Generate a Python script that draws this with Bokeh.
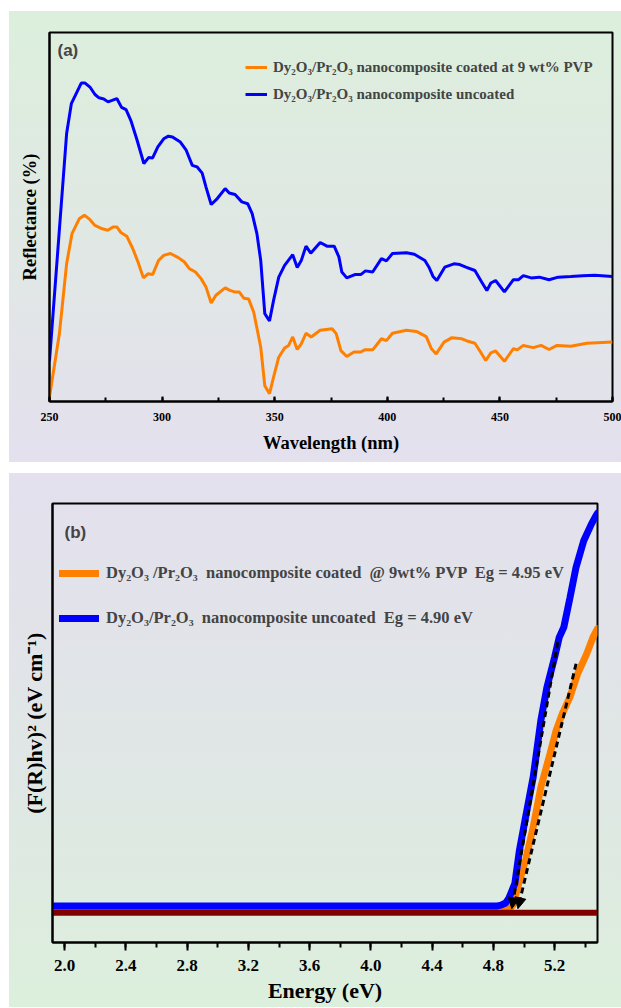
from bokeh.plotting import figure
from bokeh.models import (Range1d, SingleIntervalTicker, FixedTicker, PrintfTickFormatter,
                          Legend, LegendItem, Label, Arrow, NormalHead, ColumnDataSource)
from bokeh.embed import file_html
from bokeh.resources import INLINE

# ---------------- Panel (a): reflectance spectra ----------------
wl_uncoated = [250, 257.6, 259.7, 264.1, 265.8, 268.1, 270.2, 272, 274.1, 276, 277.8, 279.9,
               282, 284, 286.1, 288.7, 291.9, 294, 295.8, 298.1, 300.7, 302.8, 304.6, 308.1,
               310.7, 313.4, 315.5, 317.8, 319.5, 321.8, 324.5, 328, 329.8, 332.4, 335.4, 338,
               340, 342.1, 343.8, 345.6, 347.7, 349.5, 351.8, 354.4, 358, 360, 361.8, 363.9,
               366, 370.2, 373.2, 376.4, 378.5, 379.8, 382, 385.6, 388.2, 390.3, 393.5, 397.4,
               399.6, 402.3, 408.5, 412, 416.7, 418.5, 420.3, 422, 425.5, 429.6, 432.2, 434.9,
               438.9, 441.9, 444.2, 446, 448.1, 452, 456, 458.3, 460.4, 463.9, 467.5, 471.8,
               475.9, 481.5, 486.8, 492.1, 500]
refl_uncoated = [11, 72.6, 80.7, 86.3, 86.3, 85.1, 83.2, 82.3, 82, 81.2, 81.6, 82.1,
                 79.7, 79.1, 76.2, 71.2, 64.5, 66.1, 66, 69, 71.2, 71.9, 71.7, 70.3,
                 68.1, 64, 63.6, 61.9, 58.1, 53.4, 55, 57.7, 56.5, 56.1, 54.1, 53.6,
                 50.9, 45.5, 38.2, 23.8, 21.8, 27.4, 33.7, 36.9, 39.8, 36.3, 38.2, 42.1,
                 40.2, 43.1, 42.1, 42.1, 39.2, 35.1, 33.5, 34.4, 34.4, 35.4, 35.1, 38.7,
                 38.1, 40.1, 40.3, 39.9, 38.2, 36.4, 33.9, 32.8, 36.4, 37.3, 37.1, 36.4,
                 35.5, 32.4, 30.1, 32.1, 32.8, 29.7, 33, 33, 34.1, 33.5, 33.7, 33,
                 33.7, 33.9, 34.1, 34.2, 33.9]

wl_coated = [250, 254.4, 257.6, 260, 263.2, 265.5, 267.6, 270.2, 273.4, 275.9, 278.2, 279.9,
             281.7, 284.3, 287, 289.3, 291.7, 293.7, 295.8, 298.4, 300.7, 303.7, 307.2, 309.9,
             312.1, 314.8, 317.3, 319.5, 321.8, 323.9, 328, 330.1, 332.2, 334.2, 336.3, 338.4,
             340.7, 343.8, 345.6, 347.7, 349.5, 351.8, 354.4, 356.2, 358, 360, 361.8, 363.9,
             366.2, 370.2, 375.5, 377.3, 379.4, 382, 385.2, 388.2, 390, 393.5, 397.4, 399.6,
             402.3, 408.5, 412.9, 417.3, 419.6, 421.7, 425.2, 428.7, 433.1, 435.4, 438.9, 441.4,
             443.7, 446, 448.1, 452, 456, 457.7, 460.4, 464.8, 468.3, 471.8, 475.4, 481.5,
             488.6, 500]
refl_coated = [1.2, 18.4, 37.3, 45.5, 49.5, 50.5, 49.5, 47.7, 46.8, 46.4, 47.3, 47.3,
               45.8, 44.8, 41.4, 37.8, 33.5, 34.6, 34.4, 38.2, 39.6, 40.1, 39, 37.8,
               36, 35.1, 33.3, 31, 26.7, 28.8, 30.8, 30.1, 29.7, 29.7, 28, 27.8,
               24.2, 14.7, 4.3, 2.1, 6.6, 12, 14.5, 15.2, 17.5, 14.1, 15.6, 18.5,
               17.5, 19.3, 19.7, 18.4, 13.8, 12.2, 13.4, 13.4, 14, 14, 17, 16.5,
               18.5, 19.3, 19, 17.6, 14.3, 12.9, 16.1, 17.3, 17, 16.4, 15.8, 13.4,
               11.1, 13.2, 13.7, 10.9, 14.3, 14, 15.2, 14.6, 15.2, 14.1, 15.2, 15,
               15.8, 16.1]

labels_a = ["Dy\u2082O\u2083/Pr\u2082O\u2083 nanocomposite coated at 9 wt% PVP",
            "Dy\u2082O\u2083/Pr\u2082O\u2083 nanocomposite uncoated"]

# ---------------- Panel (b): Kubelka-Munk plot ----------------
energy_uncoated = [1.92, 4.82, 4.85, 4.88, 4.90, 4.94, 4.97, 5.01, 5.06, 5.11, 5.15, 5.20,
                   5.23, 5.26, 5.30, 5.34, 5.39, 5.44, 5.47, 5.48]
km_uncoated = [8.3, 8.3, 8.5, 9.0, 10.0, 13.4, 21, 28.5, 37.7, 50.6, 58.2, 65,
               69.5, 71.8, 78.5, 85.5, 91.5, 95.3, 97.2, 97.8]

energy_coated = [1.92, 4.90, 4.93, 4.97, 5.01, 5.06, 5.11, 5.17, 5.21, 5.25, 5.30, 5.35,
                 5.41, 5.45, 5.48]
km_coated = [7.5, 7.5, 8.6, 14.1, 18.7, 26.3, 35.4, 43, 48.3, 52.1, 55.9, 61.2,
             65.8, 69.5, 71.5]

baseline_energy = [1.92, 5.48]
baseline_value = [6.8, 6.8]

tangent_x_top = [5.22, 5.34]
tangent_y_top = [68.4, 63.5]
tangent_x_bottom = [4.92, 4.96]
tangent_y_bottom = [7.7, 7.7]

labels_b = ["Dy\u2082O\u2083 /Pr\u2082O\u2083  nanocomposite coated  @ 9wt% PVP  Eg = 4.95 eV",
            "Dy\u2082O\u2083/Pr\u2082O\u2083  nanocomposite uncoated  Eg = 4.90 eV"]

SERIF = "Liberation Serif"
ORANGE = "#ff8000"
BLUE = "#0000ff"


def style_common(p):
    p.grid.visible = False
    p.border_fill_alpha = 0
    p.background_fill_alpha = 0
    p.outline_line_color = "black"
    p.outline_line_width = 2
    for ax in (p.xaxis[0], p.yaxis[0]):
        ax.axis_line_width = 2
        ax.axis_line_color = "black"
        ax.major_tick_line_width = 2
        ax.minor_tick_line_width = 2
        ax.axis_label_text_font = SERIF
        ax.axis_label_text_font_style = "bold"
        ax.axis_label_text_color = "black"
        ax.major_label_text_font = SERIF
        ax.major_label_text_font_style = "bold"
        ax.major_label_text_color = "black"
    p.yaxis.ticker = FixedTicker(ticks=[])
    p.yaxis.major_tick_out = 0
    p.yaxis.major_tick_in = 0
    p.yaxis.minor_tick_out = 0
    p.yaxis.minor_tick_in = 0
    p.yaxis.major_label_standoff = 0


# ---------- figure (a) ----------
pA = figure(width=612, height=451, x_range=Range1d(250, 500), y_range=Range1d(0, 100),
            output_backend="svg", toolbar_location=None,
            min_border_left=40, min_border_right=9, min_border_top=21, min_border_bottom=61,
            margin=(11, 0, 0, 9),
            styles={"background": "linear-gradient(to bottom, #dcefdc 0%, #e0e8e4 50%, #e4e0ee 100%)"})
style_common(pA)
pA.xaxis.ticker = SingleIntervalTicker(interval=50, num_minor_ticks=2)
pA.xaxis.major_tick_in = 5
pA.xaxis.major_tick_out = 0
pA.xaxis.minor_tick_in = 4
pA.xaxis.minor_tick_out = 0
pA.xaxis.major_label_text_font_size = "12px"
pA.xaxis.major_label_standoff = 11
pA.xaxis.axis_label = "Wavelength (nm)"
pA.xaxis.axis_label_text_font_size = "18.5px"
pA.xaxis.axis_label_standoff = 9
pA.yaxis.axis_label = "Reflectance (%)"
pA.yaxis.axis_label_text_font_size = "18.5px"
pA.yaxis.axis_label_standoff = 10

rA_c = pA.line(wl_coated, refl_coated, line_color=ORANGE, line_width=3)
rA_u = pA.line(wl_uncoated, refl_uncoated, line_color=BLUE, line_width=3)

legA = Legend(items=[LegendItem(label=labels_a[0], renderers=[rA_c]),
                     LegendItem(label=labels_a[1], renderers=[rA_u])],
              location=(196, 297), background_fill_alpha=0, border_line_alpha=0,
              label_text_font=SERIF, label_text_font_style="bold", label_text_font_size="15px",
              glyph_width=22, glyph_height=20, label_height=20, spacing=7,
              padding=0, margin=0, label_standoff=6)
pA.add_layout(legA)
pA.add_layout(Label(x=250, y=100, x_offset=8, y_offset=-18, text="(a)",
                    text_font="Liberation Sans", text_font_style="bold",
                    text_font_size="17px", text_baseline="middle"))

# ---------- figure (b) ----------
pB = figure(width=612, height=534, x_range=Range1d(1.92, 5.48), y_range=Range1d(0, 100),
            output_backend="svg", toolbar_location=None,
            min_border_left=43, min_border_right=24, min_border_top=30, min_border_bottom=65,
            margin=(11, 0, 0, 9),
            styles={"background": "linear-gradient(to bottom, #e4e0ee 0%, #e0e6e6 50%, #dcefdc 100%)"})
style_common(pB)
pB.xaxis.ticker = SingleIntervalTicker(interval=0.4, num_minor_ticks=2)
pB.xaxis.formatter = PrintfTickFormatter(format="%.1f")
pB.xaxis.major_tick_in = 0
pB.xaxis.major_tick_out = 8
pB.xaxis.minor_tick_in = 0
pB.xaxis.minor_tick_out = 5
pB.xaxis.major_label_text_font_size = "17px"
pB.xaxis.major_label_standoff = 9
pB.xaxis.axis_label = "Energy (eV)"
pB.xaxis.axis_label_text_font_size = "22px"
pB.xaxis.axis_label_standoff = 4
pB.yaxis.axis_label = "(F(R)hv)\u00b2 (eV cm\u207b\u00b9)"
pB.yaxis.axis_label_text_font_size = "22px"
pB.yaxis.axis_label_standoff = 6

rB_c = pB.line(energy_coated, km_coated, line_color=ORANGE, line_width=7, line_cap="round")
pB.line(baseline_energy, baseline_value, line_color="#800000", line_width=6)
rB_u = pB.line(energy_uncoated, km_uncoated, line_color=BLUE, line_width=7, line_cap="round")

tan_src = ColumnDataSource(dict(x0=tangent_x_top, y0=tangent_y_top,
                                x1=tangent_x_bottom, y1=tangent_y_bottom))
pB.add_layout(Arrow(end=NormalHead(size=11, fill_color="black", line_color="black", line_width=1),
                    x_start="x0", y_start="y0", x_end="x1", y_end="y1", source=tan_src,
                    line_color="black", line_width=3, line_dash="6 4"))

legB = Legend(items=[LegendItem(label=labels_b[0], renderers=[rB_c]),
                     LegendItem(label=labels_b[1], renderers=[rB_u])],
              location=(7, 314), background_fill_alpha=0, border_line_alpha=0,
              label_text_font=SERIF, label_text_font_style="bold", label_text_font_size="16.5px",
              glyph_width=40, glyph_height=20, label_height=20, spacing=25,
              padding=0, margin=0, label_standoff=7)
pB.add_layout(legB)
pB.add_layout(Label(x=1.92, y=100, x_offset=12, y_offset=-29, text="(b)",
                    text_font="Liberation Sans", text_font_style="bold",
                    text_font_size="17px", text_baseline="middle"))

# two independent roots, so that the two frames are not aligned with each other
open("out.html", "w").write(file_html([pA, pB], INLINE))
